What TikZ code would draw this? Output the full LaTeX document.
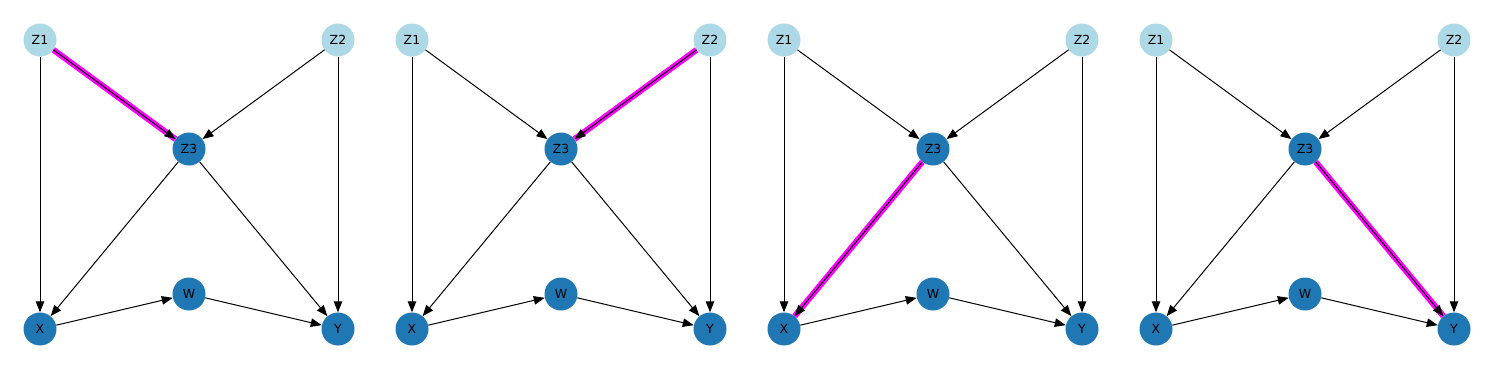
\documentclass[tikz,border=0pt]{standalone}
\usepackage{fontspec}
\setmainfont{DejaVu Sans}
\usetikzlibrary{arrows.meta}
\definecolor{root-blue}{HTML}{ADD8E6}
\definecolor{node-blue}{HTML}{1F77B4}
\definecolor{mark-pink}{HTML}{FF00FF}

\begin{document}
\begin{tikzpicture}[x=1pt, y=-1pt,
    every node/.style={font=\fontsize{12.5}{14}\selectfont},
    rootnode/.style={circle, fill=root-blue, minimum size=33pt, inner sep=0pt},
    dagnode/.style={circle, fill=node-blue, minimum size=33pt, inner sep=0pt},
    edge/.style={-{Triangle[length=11pt, width=8.5pt]}, line width=1pt},
    pathmark/.style={line width=6pt, draw=mark-pink}]
  \useasboundingbox (0,0) rectangle (1489,376);
  % one panel per highlighted edge
  \foreach \p/\sa/\ta in {0/Z1/Z3, 1/Z2/Z3, 2/Z3/X, 3/Z3/Y} {
    \begin{scope}[xshift=\p*372pt]
      \node[rootnode] (Z1-\p) at (40,40) {Z1};
      \node[rootnode] (Z2-\p) at (338,40) {Z2};
      \node[dagnode] (Z3-\p) at (189,149) {Z3};
      \node[dagnode] (W-\p) at (189,294) {W};
      \node[dagnode] (X-\p) at (40,329) {X};
      \node[dagnode] (Y-\p) at (338,329) {Y};

      % highlighted edge under its arrow
      \draw[pathmark] (\sa-\p) -- (\ta-\p);

      \foreach \a/\b in {Z1/Z3, Z2/Z3, Z1/X, Z2/Y, Z3/X, Z3/Y, X/W, W/Y}
        \draw[edge] (\a-\p) -- (\b-\p);
    \end{scope}
  }
\end{tikzpicture}
\end{document}
